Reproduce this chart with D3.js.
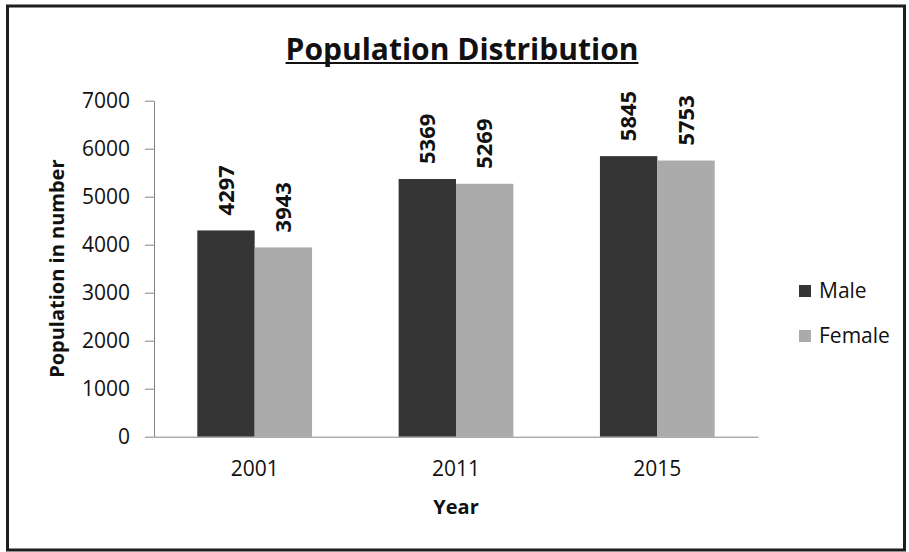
<!DOCTYPE html>
<html>
<head>
<script src="https://d3js.org/d3.v7.min.js"></script>
<style>
  body { margin: 0; background: #fff; }
  text { font-family: "Open Sans", sans-serif; fill: #111; }
</style>
</head>
<body>
<svg id="chart" width="909" height="552"></svg>
<script>
// data
var years = ["2001", "2011", "2015"];
var series = ["Male", "Female"];
var maleValues = [4297, 5369, 5845];
var femaleValues = [3943, 5269, 5753];
var yTicks = [0, 1000, 2000, 3000, 4000, 5000, 6000, 7000];
var colors = ["#353535", "#ababab"];

var svg = d3.select("#chart");

// outer frame
svg.append("rect")
    .attr("x", 7.5).attr("y", 6)
    .attr("width", 897).attr("height", 544)
    .attr("fill", "none")
    .attr("stroke", "#1e1e1e")
    .attr("stroke-width", 3);

var plot = { left: 154, right: 758, top: 100.7, bottom: 436.7 };

var x0 = d3.scaleBand()
    .domain(years)
    .range([plot.left, plot.right])
    .paddingInner(0.43)
    .paddingOuter(0.215);

var x1 = d3.scaleBand()
    .domain(series)
    .range([0, x0.bandwidth()]);

var y = d3.scaleLinear()
    .domain([0, 7000])
    .range([plot.bottom, plot.top]);

var rows = years.map(function (yr, i) {
    return { year: yr, vals: [maleValues[i], femaleValues[i]] };
});

// bars
var groups = svg.selectAll(".grp")
    .data(rows)
    .enter().append("g")
    .attr("class", "grp")
    .attr("transform", function (d) { return "translate(" + x0(d.year) + ",0)"; });

groups.selectAll("rect")
    .data(function (d) { return d.vals.map(function (v, j) { return { s: series[j], v: v, j: j }; }); })
    .enter().append("rect")
    .attr("x", function (d) { return x1(d.s); })
    .attr("y", function (d) { return y(d.v); })
    .attr("width", x1.bandwidth())
    .attr("height", function (d) { return y(0) - y(d.v); })
    .attr("fill", function (d) { return colors[d.j]; });

// value labels (rotated)
groups.selectAll(".lbl")
    .data(function (d) { return d.vals.map(function (v, j) { return { s: series[j], v: v }; }); })
    .enter().append("text")
    .attr("class", "lbl")
    .attr("transform", function (d) {
        var cx = x1(d.s) + x1.bandwidth() / 2;
        return "translate(" + cx + "," + (y(d.v) - 15) + ") rotate(-90)";
    })
    .attr("dy", "0.35em")
    .attr("text-anchor", "start")
    .style("font-size", "22px")
    .style("font-weight", "bold")
    .text(function (d) { return d.v; });

// y axis
var yAxis = svg.append("g")
    .attr("transform", "translate(" + plot.left + ",0)")
    .call(d3.axisLeft(y).tickValues(yTicks).tickSize(9).tickSizeOuter(0).tickPadding(15).tickFormat(d3.format("d")));

// x axis
var xAxis = svg.append("g")
    .attr("transform", "translate(0," + plot.bottom + ")")
    .call(d3.axisBottom(x0).tickSize(0).tickSizeOuter(0).tickPadding(24));

[yAxis, xAxis].forEach(function (a) {
    a.select(".domain").attr("stroke", "#868686");
    a.selectAll(".tick line").attr("stroke", "#868686");
    a.selectAll(".tick text")
        .style("font-family", "'Open Sans', sans-serif")
        .style("font-size", "21px")
        .attr("fill", "#111");
});

// title
var title = svg.append("text")
    .attr("x", 462)
    .attr("y", 60)
    .attr("text-anchor", "middle")
    .style("font-size", "30px")
    .style("font-weight", "bold")
    .text("Population Distribution");
var tw = title.node().getComputedTextLength();
svg.append("line")
    .attr("x1", 462 - tw / 2).attr("x2", 462 + tw / 2)
    .attr("y1", 63).attr("y2", 63)
    .attr("stroke", "#111")
    .attr("stroke-width", 2);

// axis titles
svg.append("text")
    .attr("transform", "translate(57," + ((plot.top + plot.bottom) / 2 + 0) + ") rotate(-90)")
    .attr("text-anchor", "middle")
    .attr("dy", "0.35em")
    .style("font-size", "20px")
    .style("font-weight", "bold")
    .text("Population in number");

svg.append("text")
    .attr("x", (plot.left + plot.right) / 2)
    .attr("y", 514)
    .attr("text-anchor", "middle")
    .style("font-size", "20px")
    .style("font-weight", "bold")
    .text("Year");

// legend
var legend = svg.selectAll(".leg")
    .data(series)
    .enter().append("g")
    .attr("class", "leg")
    .attr("transform", function (d, i) { return "translate(799," + (285 + i * 45) + ")"; });

legend.append("rect")
    .attr("width", 12).attr("height", 12)
    .attr("fill", function (d, i) { return colors[i]; });

legend.append("text")
    .attr("x", 20)
    .attr("y", 13)
    .style("font-size", "21px")
    .text(function (d) { return d; });
</script>
</body>
</html>
